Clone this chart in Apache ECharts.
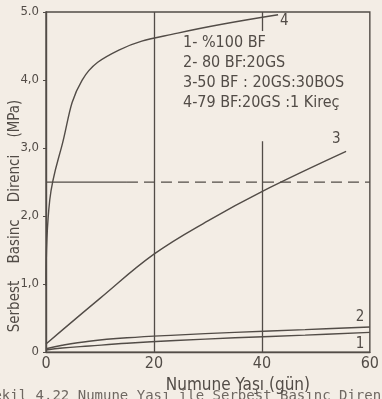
<!DOCTYPE html>
<html>
<head>
<meta charset="utf-8">
<script src="https://cdn.jsdelivr.net/npm/echarts@6/dist/echarts.min.js"></script>
<style>
html,body{margin:0;padding:0;background:#f3ede5;}
#main{width:382px;height:399px;}
</style>
</head>
<body>
<div id="main"></div>
<script>
// okunan degerler [gun, MPa]
var curve1 = [[0,0.03],[3,0.06],[8,0.09],[15,0.13],[24,0.17],[35,0.21],[48,0.25],[60,0.29]];
var curve2 = [[0,0.05],[3,0.1],[8,0.16],[15,0.21],[24,0.25],[35,0.29],[48,0.33],[60,0.37]];
var curve3 = [[0,0.12],[10,0.79],[20,1.44],[30,1.93],[40,2.36],[55.6,2.95]];
var curve4 = [[0,0.97],[0.7,2.24],[2.9,3.02],[6.7,4.0],[13.5,4.44],[24.4,4.69],[43,4.96]];
var refLevel = 2.5; // kesikli cizgi
var legendLines = ['1- %100 BF','2- 80 BF:20GS','3-50 BF : 20GS:30BOS','4-79 BF:20GS :1 Kireç'];
var yTickLabels = ['0','1,0','2,0','3,0','4,0','5.0'];
var xTickLabels = ['0','20','40','60'];

var ink = '#524c47';
var fontF = '"DejaVu Sans Condensed","DejaVu Sans",sans-serif';

var myChart = echarts.init(document.getElementById('main'));

function curve(data, label, off){
	return {
		type:'line', data:data, smooth:0.4, symbol:'none',
		lineStyle:{color:ink,width:1.4},
		endLabel:{show:true,formatter:label,color:ink,fontSize:15,fontFamily:fontF,offset:off,distance:0}
	};
}

var option = {
	backgroundColor:'#f3ede5',
	animation:false,
	grid:{left:46,right:6,top:12,bottom:46,show:true,borderColor:ink,borderWidth:1.4,backgroundColor:'transparent'},
	xAxis:{
		type:'value',min:0,max:60,interval:20,
		name:'Numune Yaşı (gün)',nameLocation:'middle',nameGap:24,
		nameTextStyle:{color:ink,fontSize:17,fontFamily:fontF,padding:[0,0,0,60]},
		axisLine:{lineStyle:{color:ink,width:1.4}},
		axisTick:{show:false},
		splitLine:{show:false},
		axisLabel:{color:ink,fontSize:16,fontFamily:fontF,margin:4,
			formatter:function(v){return xTickLabels[Math.round(v/20)];}}
	},
	yAxis:{
		type:'value',min:0,max:5,interval:1,
		axisLine:{show:true,lineStyle:{color:ink,width:1.4}},
		axisTick:{show:true,length:3,lineStyle:{color:ink}},
		splitLine:{show:false},
		axisLabel:{color:ink,fontSize:13,fontFamily:fontF,margin:7,
			formatter:function(v){return yTickLabels[Math.round(v)];}}
	},
	series:[
		curve(curve1,'1',[-14,12]),
		curve(curve2,'2',[-14,-10]),
		curve(curve3,'3',[-14,-12]),
		curve(curve4,'4',[2,6]),
		{
			type:'line',data:[[0,refLevel],[15,refLevel]],symbol:'none',
			lineStyle:{color:ink,width:1.3}
		},
		{
			type:'line',data:[[15,refLevel],[60,refLevel]],symbol:'none',
			lineStyle:{color:ink,width:1.3,type:[11,6]},
			markLine:{
				silent:true,symbol:'none',label:{show:false},
				lineStyle:{color:ink,width:1.3,type:'solid'},
				data:[
					[{coord:[20,0]},{coord:[20,5]}],
					[{coord:[40,0]},{coord:[40,3.1]}],
					[{coord:[40,4.72]},{coord:[40,5]}]
				]
			}
		}
	],
	graphic:[
		{
			type:'text',left:183,top:33,
			style:{text:legendLines.join('\n'),fill:ink,font:'16px '+fontF,lineHeight:20}
		},
		{
			//eksen basligi, dikey
			type:'text',x:15,y:216,rotation:Math.PI/2,
			style:{text:'Serbest    Basinc    Direnci    (MPa)',fill:ink,font:'15px '+fontF,align:'center',verticalAlign:'middle'}
		},
		{
			type:'text',left:-15,top:389,
			style:{text:'Şekil 4.22 Numune Yaşı ile Serbest Basınç Direnci',fill:'#6f6862',font:'14px "DejaVu Sans Mono",monospace'}
		}
	]
};
myChart.setOption(option);
</script>
</body>
</html>
